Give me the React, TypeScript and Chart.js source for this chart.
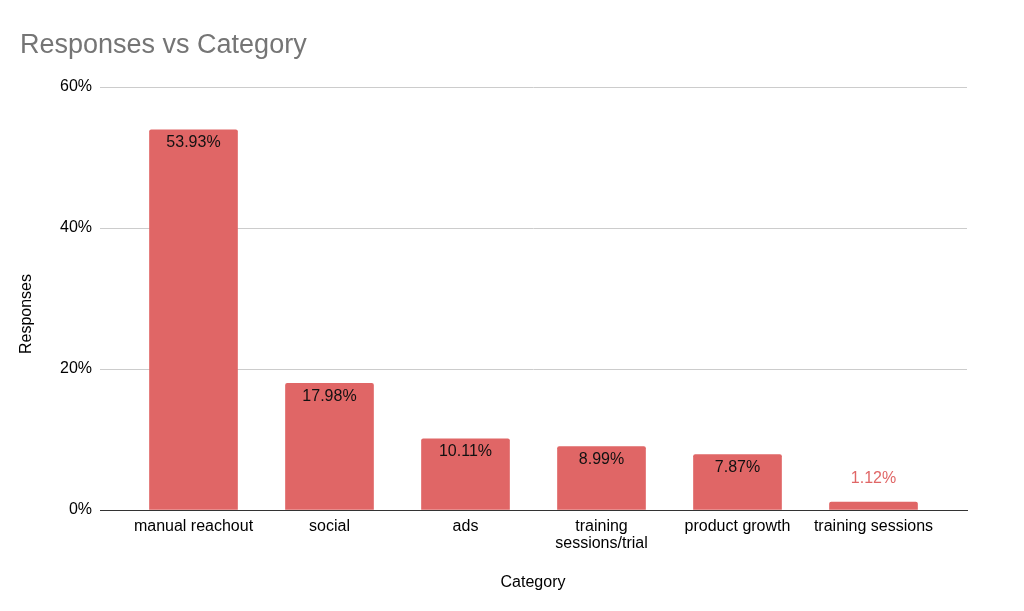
import React, { useEffect, useRef } from "react";
import { Chart, registerables } from "chart.js";

Chart.register(...registerables);

const categories: (string | string[])[] = [
  "manual reachout",
  "social",
  "ads",
  ["training", "sessions/trial"],
  "product growth",
  "training sessions",
];
const responses = [53.93, 17.98, 10.11, 8.99, 7.87, 1.12];
const valueLabels = ["53.93%", "17.98%", "10.11%", "8.99%", "7.87%", "1.12%"];
const yTicks = [0, 20, 40, 60];

const TITLE = "Responses vs Category";
const X_TITLE = "Category";
const Y_TITLE = "Responses";
const BAR_COLOR = "#e06666";
const ARIAL = "'Liberation Sans', Arial, sans-serif";

const overlayPlugin = {
  id: "overlay",
  afterDatasetsDraw(chart: any) {
    const ctx = chart.ctx;
    const meta = chart.getDatasetMeta(0);
    ctx.save();
    ctx.textAlign = "center";
    ctx.textBaseline = "middle";
    ctx.font = `16px ${ARIAL}`;
    meta.data.forEach((el: any, i: number) => {
      const h = el.base - el.y;
      if (h > 30) {
        ctx.fillStyle = "#111";
        ctx.fillText(valueLabels[i], el.x, el.y + 13);
      } else {
        ctx.fillStyle = BAR_COLOR;
        ctx.fillText(valueLabels[i], el.x, el.y - 24);
      }
    });
    ctx.restore();
  },
  afterDraw(chart: any) {
    const ctx = chart.ctx;
    const area = chart.chartArea;
    ctx.save();
    ctx.fillStyle = "#757575";
    ctx.font = `27px ${ARIAL}`;
    ctx.textAlign = "left";
    ctx.textBaseline = "alphabetic";
    ctx.fillText(TITLE, 20, 53);
    ctx.fillStyle = "#000";
    ctx.font = `16px ${ARIAL}`;
    ctx.textAlign = "center";
    ctx.textBaseline = "middle";
    ctx.fillText(X_TITLE, 533, 583);
    ctx.translate(27, 314);
    ctx.rotate(-Math.PI / 2);
    ctx.fillText(Y_TITLE, 0, 0);
    ctx.restore();
  },
};

export default function App() {
  const ref = useRef<HTMLCanvasElement | null>(null);
  useEffect(() => {
    if (!ref.current) return;
    const chart = new Chart(ref.current, {
      type: "bar",
      data: {
        datasets: [
          {
            data: responses.map((v, i) => ({ x: i, y: v })),
            backgroundColor: BAR_COLOR,
            borderWidth: 0,
            borderRadius: { topLeft: 2, topRight: 2 },
            borderSkipped: "bottom",
            barThickness: 88,
          },
        ],
      },
      options: {
        responsive: false,
        animation: false,
        devicePixelRatio: 1,
        layout: { padding: { left: 0, top: 87, right: 57, bottom: 0 } },
        plugins: {
          legend: { display: false },
          tooltip: { enabled: false },
          title: { display: false },
        },
        scales: {
          x: {
            type: "linear",
            offset: false,
            min: -0.6875,
            max: 5.6875,
            afterBuildTicks: (scale: any) => {
              scale.ticks = categories.map((_, i) => ({ value: i }));
            },
            afterFit: (scale: any) => {
              scale.height = 101;
            },
            ticks: {
              autoSkip: false,
              maxRotation: 0,
              padding: 8,
              color: "#000",
              font: { family: ARIAL, size: 16, lineHeight: 1.05 },
              callback: (v: any) => categories[v as number],
            },
            grid: { display: false, drawTicks: false, offset: false },
            border: { display: true, color: "#333", width: 1 },
          },
          y: {
            min: 0,
            max: 60,
            afterBuildTicks: (scale: any) => {
              scale.ticks = yTicks.map((v) => ({ value: v }));
            },
            afterFit: (scale: any) => {
              scale.width = 100;
            },
            ticks: {
              padding: 8,
              color: "#000",
              font: { family: ARIAL, size: 16 },
              callback: (v: any) => `${v}%`,
            },
            grid: {
              drawTicks: false,
              color: (c: any) => (c.tick && c.tick.value === 0 ? "#333" : "#cccccc"),
              lineWidth: 1,
            },
            border: { display: false },
          },
        },
      } as any,
      plugins: [overlayPlugin],
    });
    return () => chart.destroy();
  }, []);
  return (
    <div style={{ position: "fixed", left: 0, top: 0, width: 1024, height: 611, background: "#fff" }}>
      <canvas ref={ref} width={1024} height={611} style={{ display: "block" }} />
    </div>
  );
}
